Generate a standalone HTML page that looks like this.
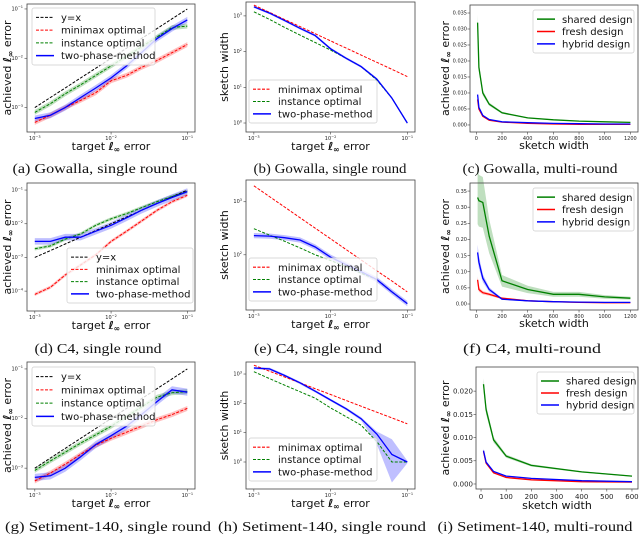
<!DOCTYPE html>
<html><head><meta charset="utf-8"><style>
html,body{margin:0;padding:0;background:#fff;}
svg{display:block;font-family:"DejaVu Sans","Liberation Sans",sans-serif;}
.cap{font-family:"Liberation Serif",serif;}
</style></head><body>
<svg id="fig" width="640" height="534" viewBox="0 0 640 534" xmlns="http://www.w3.org/2000/svg"></svg>
<script>
// ---------- data ----------
const targetErr = [0.001,0.0016,0.0025,0.004,0.0063,0.01,0.016,0.025,0.04,0.063,0.1];
const widthsC = [10,20,50,100,200,400,600,800,1000,1200];
const widthsI = [10,20,50,100,200,400,600];
const logTicksErr = [0.001,0.01,0.1];
// (a) Gowalla single round, achieved error
const aMinimax = [5e-4,7e-4,1e-3,1.4e-3,2e-3,3.5e-3,4.5e-3,6.5e-3,9e-3,1.3e-2,1.9e-2];
const aInstance = [8e-4,1.2e-3,1.9e-3,2.9e-3,4.5e-3,7e-3,1.1e-2,1.7e-2,2.7e-2,4.2e-2,4.5e-2];
const aTwoPhase = [6e-4,7e-4,1e-3,1.6e-3,2.5e-3,4e-3,7e-3,1.3e-2,2.5e-2,4e-2,6e-2];
// (b) Gowalla sketch width
const bMinimax = [2000,1250,800,500,317,200,125,80,50,32,20];
const bInstance = [1300,800,480,290,180,110,65,38,16,5,1];
const bTwoPhase = [1800,1200,750,450,280,120,65,38,17,5,1];
const bWidthTicks = [1,10,100,1000];
// (c) Gowalla multi-round
const cShared = [0.032,0.018,0.010,0.0065,0.0038,0.0022,0.0016,0.0012,0.001,0.0008];
const cFresh = [0.008,0.005,0.0027,0.0015,0.0009,0.0005,0.0003,0.0002,0.0002,0.0002];
const cHybrid = [0.0095,0.0055,0.003,0.0017,0.001,0.0007,0.0005,0.0004,0.0003,0.0003];
const cYTicks = [0,0.005,0.01,0.015,0.02,0.025,0.03,0.035];
const cXTicks = [0,200,400,600,800,1000,1200];
// (d) C4 single round
const dMinimax = [8e-5,1.3e-4,3e-4,6e-4,1.2e-3,3e-3,6e-3,1.2e-2,2.5e-2,4.5e-2,7e-2];
const dInstance = [1.8e-3,2.2e-3,3.5e-3,5e-3,9e-3,1.4e-2,2e-2,3e-2,4.5e-2,6.5e-2,9e-2];
const dTwoPhase = [3e-3,3e-3,4e-3,4e-3,6e-3,9e-3,1.5e-2,2.5e-2,4e-2,6e-2,9e-2];
const dYTicks = [1e-4,1e-3,1e-2,1e-1];
// (e) C4 sketch width
const eMinimax = [2000,1250,800,500,317,200,125,80,50,32,20];
const eInstance = [310,235,180,135,100,78,59,45,34,20,12];
const eTwoPhase = [230,225,210,190,140,90,65,48,34,20,12];
const eWidthTicks = [100,1000];
// (f) C4 multi-round
const fShared = [0.33,0.32,0.315,0.21,0.072,0.045,0.03,0.03,0.022,0.018];
const fFresh = [0.075,0.045,0.035,0.03,0.018,0.01,0.007,0.005,0.004,0.004];
const fHybrid = [0.16,0.13,0.08,0.045,0.015,0.01,0.007,0.006,0.005,0.005];
const fYTicks = [0,0.05,0.1,0.15,0.2,0.25,0.3,0.35];
// (g) Sentiment single round
const gMinimax = [5.5e-4,8e-4,1.2e-3,1.9e-3,2.9e-3,4e-3,5.3e-3,7e-3,9.5e-3,1.2e-2,1.6e-2];
const gInstance = [9e-4,1.4e-3,2.1e-3,3.2e-3,4.7e-3,7e-3,1.1e-2,1.7e-2,2.7e-2,3.3e-2,3.5e-2];
const gTwoPhase = [6.5e-4,7e-4,1e-3,1.7e-3,3e-3,4.5e-3,7e-3,1.2e-2,2.2e-2,3.8e-2,3.4e-2];
// (h) Sentiment sketch width
const hMinimax = [2000,1250,800,500,317,200,125,80,50,32,20];
const hInstance = [1200,700,420,250,150,70,35,18,5,1,1];
const hTwoPhase = [1600,1500,900,500,260,130,65,30,9,1.8,1];
const hTwoPhaseLo = [1450,1350,820,450,235,118,58,26,4,0.2,0.9];
const hTwoPhaseHi = [1750,1650,990,550,285,142,72,34,11,6,1.1];
// (i) Sentiment multi-round
const iShared = [0.0215,0.016,0.0095,0.006,0.004,0.0026,0.0017];
const iFresh = [0.007,0.0045,0.0024,0.0014,0.0009,0.0005,0.0004];
const iHybrid = [0.0072,0.0047,0.0027,0.0017,0.0012,0.0007,0.0005];
const iYTicks = [0,0.005,0.01,0.015,0.02];
const iXTicks = [0,100,200,300,400,500,600];

// ---------- drawing ----------
const NS = "http://www.w3.org/2000/svg";
const fig = document.getElementById('fig');
function mk(tag, attrs, parent){ const e=document.createElementNS(NS,tag); for(const k in attrs) e.setAttribute(k,attrs[k]); (parent||fig).appendChild(e); return e; }
function scale(dom, r0, r1, log){
  if(log){ const a=Math.log10(dom[0]), b=Math.log10(dom[1]); return v => r0 + (Math.log10(v)-a)/(b-a)*(r1-r0); }
  return v => r0 + (v-dom[0])/(dom[1]-dom[0])*(r1-r0);
}
function expLabel(parent, x, y, v, anchor, fs){
  const t = mk('text',{x:x,y:y,'font-size':fs,'text-anchor':anchor,fill:'#222'},parent);
  
  
  const e = Math.round(Math.log10(v));
  t.appendChild(document.createTextNode('10'));
  const s = mk('tspan',{dy:-fs*0.45,'font-size':fs*0.7},t);
  s.textContent = e<0 ? '\u2212'+(-e) : String(e);
}
function fmt(v, d){ return v.toFixed(d); }

function panel(c){
  const g = mk('g',{});
  
  
  const [x0,y0,x1,y1] = c.box;
  const sx = scale(c.xdom, x0, x1, c.xlog), sy = scale(c.ydom, y1, y0, c.ylog);
  c.series.forEach(s=>{
    const xs=s.xs, ys=s.ys;
    const lo = s.lo || ys.map(v=> c.ylog ? v/(1+s.spread) : v - s.spread*v);
    const hi = s.hi || ys.map(v=> c.ylog ? v*(1+s.spread) : v + s.spread*v);
    let pts=[]; xs.forEach((x,i)=>pts.push(sx(x).toFixed(1)+','+sy(Math.max(hi[i],1e-9)).toFixed(1)));
    for(let i=xs.length-1;i>=0;i--) pts.push(sx(xs[i]).toFixed(1)+','+sy(Math.max(lo[i], c.ylog?1e-9:-1)).toFixed(1));
    if(s.spread>0 || s.lo){
      const b = mk('polygon',{points:pts.join(' '),fill:s.color,'fill-opacity':0.25,stroke:'none'},g);
      
      
    }
  });
  c.series.forEach(s=>{
    const d = s.xs.map((x,i)=>(i?'L':'M')+sx(x).toFixed(1)+','+sy(s.ys[i]).toFixed(1)).join(' ');
    const p = mk('path',{d:d,fill:'none',stroke:s.color,'stroke-width':s.dash?1:1.3,'stroke-dasharray':s.dash?'3,1.5':'none'},g);
    
    
  });
  const fr = mk('rect',{x:x0,y:y0,width:x1-x0,height:y1-y0,fill:'none',stroke:'#444','stroke-width':0.8},g);
  
  
  c.xticks.forEach(v=>{
    const X=sx(v);
    mk('line',{x1:X,x2:X,y1:y1,y2:y1+2.5,stroke:'#444','stroke-width':0.6},g);
    if(c.xlog) expLabel(g, X, y1+8, v, 'middle', c.tfs);
    else { const t=mk('text',{x:X,y:y1+3+c.tfs,'font-size':c.tfs,'text-anchor':'middle',fill:'#222'},g); t.textContent=String(v);
        }
  });
  c.yticks.forEach(v=>{
    const Y=sy(v);
    mk('line',{x1:x0-2.5,x2:x0,y1:Y,y2:Y,stroke:'#444','stroke-width':0.6},g);
    if(c.ylog) expLabel(g, x0-4, Y+1.5, v, 'end', c.tfs);
    else { const t=mk('text',{x:x0-3,y:Y+c.tfs*0.35,'font-size':c.tfs,'text-anchor':'end',fill:'#222'},g); t.textContent=fmt(v,c.ydec);
        }
  });
  const xl = mk('text',{x:(x0+x1)/2,y:y1+c.xlOff,'font-size':c.lfs,'text-anchor':'middle',fill:'#111'},g);
   
  xl.innerHTML = c.xlabel;
  const yx = x0 - c.ylOff, yy=(y0+y1)/2;
  const yl = mk('text',{x:yx,y:yy,'font-size':c.lfs,'text-anchor':'middle',fill:'#111',transform:`rotate(-90 ${yx} ${yy})`},g);
   
  yl.innerHTML = c.ylabel;
  const L=c.legend;
  const lg = mk('g',{},g);
   
  mk('rect',{x:L[0],y:L[1],width:L[2],height:L[3],rx:2,fill:'#fff','fill-opacity':0.8,stroke:'#ccc','stroke-width':0.7},lg);
  const n=c.series.length, rowH=(L[3]-6)/n;
  c.series.forEach((s,i)=>{
    const ry = L[1]+3+rowH*(i+0.5);
    const ln = mk('line',{x1:L[0]+4,x2:L[0]+22,y1:ry,y2:ry,stroke:s.color,'stroke-width':s.dash?1.1:1.5,'stroke-dasharray':s.dash?'3,1.5':'none'},lg);
     
    const t = mk('text',{x:L[0]+29,y:ry+3.6,'font-size':c.gfs,fill:'#111'},lg);
     
    t.textContent = s.label;
  });
  const cp = mk('text',{x:c.cap[1],y:c.cap[2],'font-size':14,'text-anchor':'middle',textLength:c.cap[3],lengthAdjust:'spacingAndGlyphs',fill:'#111',class:'cap'},g);
   
  cp.textContent = c.cap[0];
}
const ACH = 'achieved <tspan font-weight="bold" font-style="italic">ℓ</tspan><tspan font-weight="bold" font-size="70%" dy="2">∞</tspan><tspan dy="-2"> error</tspan>';
const TGT = 'target <tspan font-weight="bold" font-style="italic">ℓ</tspan><tspan font-weight="bold" font-size="70%" dy="2">∞</tspan><tspan dy="-2"> error</tspan>';
const SW = 'sketch width';
const R='#ff0000', G='#008000', B='#0000ff', K='#000000';
const LFS=11, GFS=10;
function single(name,box,ydom,yticks,mm,inst,tp,legend,cap,tpSpread){
  return {name,box,xlog:true,ylog:true,xdom:[7.9e-4,0.126],ydom,xticks:logTicksErr,yticks,tfs:5,lfs:LFS,gfs:GFS,xlOff:18,ylOff:16,
    xlabel:TGT,ylabel:ACH,legend,cap,series:[
    {key:'y-equals-x',label:'y=x',xs:targetErr,ys:targetErr,color:K,dash:true,spread:0},
    {key:'minimax-optimal',label:'minimax optimal',xs:targetErr,ys:mm,color:R,dash:true,spread:0.12},
    {key:'instance-optimal',label:'instance optimal',xs:targetErr,ys:inst,color:G,dash:true,spread:0.12},
    {key:'two-phase-method',label:'two-phase-method',xs:targetErr,ys:tp,color:B,dash:false,spread:tpSpread}]};
}
function widthP(name,box,ydom,yticks,mm,inst,tp,legend,cap,tpSpread,tpLo,tpHi){
  return {name,box,xlog:true,ylog:true,xdom:[7.9e-4,0.126],ydom,xticks:logTicksErr,yticks,tfs:5,lfs:LFS,gfs:GFS,xlOff:18,ylOff:18,
    xlabel:TGT,ylabel:SW,legend,cap,series:[
    {key:'minimax-optimal',label:'minimax optimal',xs:targetErr,ys:mm,color:R,dash:true,spread:0},
    {key:'instance-optimal',label:'instance optimal',xs:targetErr,ys:inst,color:G,dash:true,spread:0},
    {key:'two-phase-method',label:'two-phase-method',xs:targetErr,ys:tp,color:B,dash:false,spread:tpSpread,lo:tpLo,hi:tpHi}]};
}
function multi(name,box,xdom,ydom,xs,xticks,yticks,ydec,sh,fr,hy,legend,cap,tfs,ylOff,spreads){
  return {name,box,xlog:false,ylog:false,xdom,ydom,xticks,yticks,ydec,tfs,lfs:LFS,gfs:GFS,xlOff:tfs>6?20:17,ylOff,
    xlabel:SW,ylabel:ACH,legend,cap,series:[
    {key:'shared-design',label:'shared design',xs,ys:sh,color:G,dash:false,spread:spreads[0]},
    {key:'fresh-design',label:'fresh design',xs,ys:fr,color:R,dash:false,spread:spreads[1]},
    {key:'hybrid-design',label:'hybrid design',xs,ys:hy,color:B,dash:false,spread:spreads[2]}]};
}
panel(single('panel-a-gowalla-single',[27,4,195,132],[3.2e-4,0.126],logTicksErr,aMinimax,aInstance,aTwoPhase,[32,8,123,57],['(a) Gowalla, single round',95,173,165],0.15));
panel(widthP('panel-b-gowalla-width',[246,2,415,132],[0.56,2450],bWidthTicks,bMinimax,bInstance,bTwoPhase,[249,80,128,43],['(b) Gowalla, single round',330,173,153],0.08));
panel(multi('panel-c-gowalla-multi',[470,5,638,132],[-49.5,1259.5],[-0.0022,0.0375],widthsC,cXTicks,cYTicks,3,cShared,cFresh,cHybrid,[533,10,101,43],['(c) Gowalla, multi-round',540,173,155],5,21,[0.08,0.05,0.05]));
panel(single('panel-d-c4-single',[27,183,195,311],[2.57e-5,0.162],dYTicks,dMinimax,dInstance,dTwoPhase,[67,248,126,55],['(d) C4, single round',98,353,127],0.25));
panel(widthP('panel-e-c4-width',[246,180,415,310],[9.1,2570],eWidthTicks,eMinimax,eInstance,eTwoPhase,[249,258,128,43],['(e) C4, single round',318,353,128],0.12));
panel(multi('panel-f-c4-multi',[470,183,638,310],[-49.5,1259.5],[-0.0186,0.375],widthsC,cXTicks,fYTicks,2,fShared,fFresh,fHybrid,[533,188,101,43],['(f) C4, multi-round',532,353,138],5,21,[0.25,0.15,0.15]));
panel(single('panel-g-sentiment-single',[27,362,195,489],[3.8e-4,0.138],logTicksErr,gMinimax,gInstance,gTwoPhase,[32,367,123,59],['(g) Setiment-140, single round',108,531,206],0.18));
panel(widthP('panel-h-sentiment-width',[246,362,415,489],[0.12,2570],bWidthTicks,hMinimax,hInstance,hTwoPhase,[249,438,128,43],['(h) Setiment-140, single round',322,531,208],0,hTwoPhaseLo,hTwoPhaseHi));
panel(multi('panel-i-sentiment-multi',[476,367,638,489],[-20,624],[-0.00108,0.0252],widthsI,iXTicks,iYTicks,3,iShared,iFresh,iHybrid,[537,372,97,42],['(i) Setiment-140, multi-round',535,531,195],7,27,[0.06,0.06,0.06]));
</script>
</body></html>
